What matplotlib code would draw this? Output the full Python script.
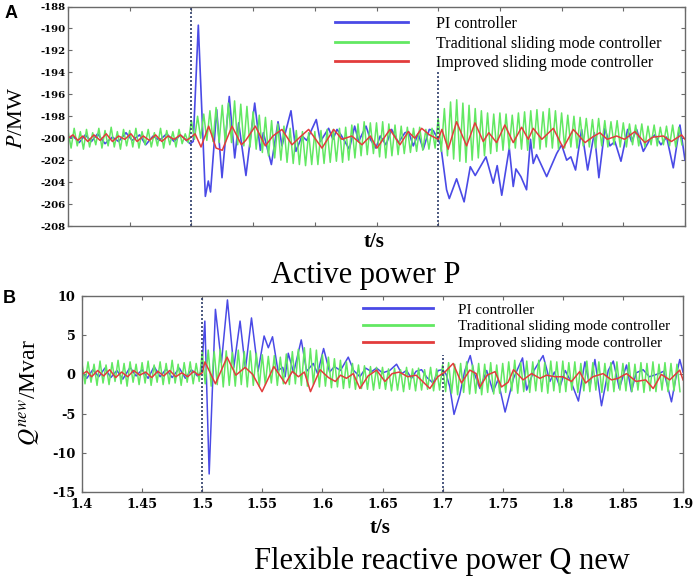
import numpy as np
import matplotlib
matplotlib.use('Agg')
import matplotlib.pyplot as plt

plt.rcParams['mathtext.fontset'] = 'stix'
plt.rcParams['axes.unicode_minus'] = False

# ---- data ----
labels = ['PI controller', 'Traditional sliding mode controller', 'Improved sliding mode controller']
x_ticks = [1.4, 1.45, 1.5, 1.55, 1.6, 1.65, 1.7, 1.75, 1.8, 1.85, 1.9]
x_ticklabels = ['1.4', '1.45', '1.5', '1.55', '1.6', '1.65', '1.7', '1.75', '1.8', '1.85', '1.9']
p_ticks = [-208, -206, -204, -202, -200, -198, -196, -194, -192, -190, -188]
q_ticks = [-15, -10, -5, 0, 5, 10]
events = [1.5, 1.7]

# Panel A, PI controller (time, P)
t_pi_a = [1.400, 1.404, 1.409, 1.414, 1.419, 1.424, 1.430, 1.436, 1.441, 1.447, 1.452, 1.458, 1.463, 1.469,
          1.474, 1.480, 1.486, 1.491, 1.496, 1.499, 1.5015, 1.5056, 1.5113, 1.5137, 1.5155, 1.5205, 1.5248,
          1.5307, 1.5351, 1.5383, 1.5442, 1.5513, 1.5559, 1.5583, 1.5648, 1.5702, 1.5734, 1.5807, 1.5847,
          1.5896, 1.5935, 1.6012, 1.6045, 1.6112, 1.6147, 1.6180, 1.6212, 1.6280, 1.6323, 1.6355, 1.6415,
          1.6450, 1.6495, 1.6530, 1.6577, 1.6623, 1.6677, 1.6731, 1.6760, 1.6798, 1.6838, 1.6879, 1.6928,
          1.6960, 1.6998, 1.7020, 1.7068, 1.7090, 1.7149, 1.7210, 1.7260, 1.7300, 1.7387, 1.7446, 1.7478,
          1.7515, 1.7576, 1.7608, 1.7630, 1.7670, 1.7716, 1.7748, 1.7770, 1.7797, 1.7879, 1.7960, 1.8000,
          1.8041, 1.8075, 1.8113, 1.8162, 1.8211, 1.8265, 1.8302, 1.8351, 1.8392, 1.8432, 1.8481, 1.8535,
          1.8567, 1.8608, 1.8662, 1.8716, 1.8756, 1.8805, 1.8851, 1.8905, 1.8959, 1.9000]
p_pi_a = [-200.1, -199.8, -200.4, -199.7, -200.3, -199.6, -200.5, -199.9, -200.3, -199.5, -200.2, -199.7,
          -200.6, -199.8, -200.2, -199.6, -200.3, -199.7, -200.2, -200.5, -200.3, -189.7, -205.3, -203.9,
          -204.9, -197.4, -203.6, -196.2, -201.8, -198.6, -203.4, -196.8, -201.1, -199.5, -202.4, -198.5,
          -200.7, -197.5, -201.2, -199.8, -200.2, -198.3, -200.3, -199.1, -200.1, -199.2, -199.7, -201.0,
          -198.9, -200.3, -198.9, -200.1, -200.9, -199.8, -200.6, -199.2, -200.4, -199.5, -199.4, -200.7,
          -199.6, -201.0, -199.2, -199.3, -200.1, -200.6, -204.7, -205.5, -203.7, -205.8, -202.6, -203.4,
          -201.7, -204.1, -202.5, -205.2, -200.9, -204.4, -202.8, -203.5, -204.7, -200.1, -202.3, -201.5,
          -203.5, -201.4, -200.6, -202.0, -201.7, -202.9, -199.2, -202.9, -199.5, -203.6, -199.1, -200.7,
          -200.3, -202.1, -199.2, -200.3, -199.2, -201.2, -200.1, -199.7, -200.6, -199.9, -202.7, -198.8,
          -202.0]

# Panel A, traditional SMC: successive peaks / troughs every 2.5 ms from 1.4 s
p_smc_a = [
    -199.3, -200.9, -199.1, -200.7, -199.4, -201.0, -199.2, -200.8, -199.5, -200.6,
    -199.1, -200.9, -199.3, -200.7, -199.0, -200.8, -199.4, -201.0, -199.2, -200.7,
    -199.3, -200.8, -199.1, -200.9, -199.4, -200.6, -199.2, -200.8, -199.5, -200.7,
    -199.1, -200.9, -199.3, -200.6, -199.4, -200.8, -199.2, -200.5, -199.6, -200.4,
    -198.4, -200.1, -198.0, -200.0, -197.8, -200.2, -197.5, -200.3, -197.2, -200.4,
    -197.0, -200.5, -196.8, -200.4, -196.6, -200.6, -196.9, -200.7, -197.1, -200.8,
    -197.6, -201.0, -197.9, -201.3, -198.1, -201.6, -198.4, -201.8, -198.7, -202.0,
    -198.9, -202.2, -199.1, -202.3, -199.3, -202.4, -199.4, -202.5, -199.5, -202.4,
    -199.4, -202.4, -199.3, -202.3, -199.2, -202.2, -199.2, -202.1, -199.1, -202.2,
    -199.0, -202.0, -198.8, -201.8, -198.7, -201.6, -198.5, -201.5, -198.6, -201.4,
    -198.6, -201.7, -198.5, -201.8, -198.7, -201.6, -198.8, -201.5, -198.9, -201.4,
    -199.0, -201.3, -199.1, -201.2, -199.0, -201.1, -199.2, -201.0, -199.1, -200.9,
    -198.2, -201.2, -197.3, -201.6, -196.7, -201.9, -196.5, -202.1, -196.8, -202.2,
    -197.0, -202.0, -197.3, -201.8, -197.5, -201.6, -197.7, -201.4, -197.8, -201.2,
    -197.7, -201.1, -197.8, -201.0, -197.9, -200.9, -197.7, -201.0, -197.6, -201.1,
    -197.5, -200.9, -197.4, -201.0, -197.6, -200.8, -197.3, -200.9, -197.5, -201.0,
    -197.7, -200.9, -197.9, -200.8, -198.0, -200.9, -198.1, -200.7, -198.2, -200.8,
    -198.3, -200.9, -198.2, -200.7, -198.4, -200.8, -198.5, -200.6, -198.4, -200.8,
    -198.6, -200.8, -198.7, -200.6, -198.8, -200.7, -198.7, -200.8, -198.9, -200.6,
    -198.8, -200.7, -199.0, -200.6, -198.9, -200.7, -198.8, -200.8, -199.0, -200.6]

# Panel A, improved SMC (time, P)
t_isc_a = [1.400, 1.404, 1.408, 1.412, 1.416, 1.421, 1.426, 1.431, 1.436, 1.441, 1.446, 1.451, 1.456, 1.461,
           1.466, 1.471, 1.476, 1.481, 1.486, 1.491, 1.496, 1.500, 1.5030, 1.5078, 1.5140, 1.5200, 1.5250,
           1.5329, 1.5405, 1.5440, 1.5518, 1.5599, 1.5660, 1.5734, 1.5815, 1.5880, 1.5950, 1.6058, 1.6153,
           1.6220, 1.6300, 1.6382, 1.6450, 1.6504, 1.6609, 1.6690, 1.6757, 1.6810, 1.6866, 1.6930, 1.7000,
           1.7030, 1.7081, 1.7149, 1.7230, 1.7298, 1.7365, 1.7410, 1.7473, 1.7540, 1.7608, 1.7676, 1.7730,
           1.7770, 1.7840, 1.7933, 1.8013, 1.8095, 1.8190, 1.8250, 1.8310, 1.8370, 1.8446, 1.8510, 1.8594,
           1.8675, 1.8740, 1.8824, 1.8890, 1.8972, 1.9000]
p_isc_a = [-200.0, -199.7, -200.2, -199.8, -200.3, -199.7, -200.2, -199.6, -200.3, -199.8, -200.1, -199.6,
           -200.3, -199.8, -200.2, -199.7, -200.3, -199.8, -200.1, -199.7, -200.2, -199.9, -199.6, -200.8,
           -198.9, -200.9, -201.1, -198.9, -200.6, -200.2, -198.9, -200.7, -199.8, -199.2, -200.6, -199.9,
           -199.2, -200.9, -199.2, -200.1, -199.8, -200.6, -199.8, -200.9, -199.2, -200.6, -199.4, -200.0,
           -199.1, -199.7, -200.1, -199.2, -201.0, -198.5, -200.7, -198.6, -200.3, -199.5, -200.4, -198.8,
           -200.4, -199.0, -200.1, -199.1, -200.1, -199.1, -200.9, -199.2, -200.4, -199.9, -199.5, -200.1,
           -199.8, -200.1, -199.4, -200.4, -199.9, -199.8, -200.3, -199.7, -200.1]

# Panel B, PI controller (time, Q)
t_pi_b = [1.400, 1.404, 1.409, 1.414, 1.419, 1.424, 1.429, 1.434, 1.440, 1.445, 1.450, 1.455, 1.460, 1.465,
          1.470, 1.475, 1.481, 1.486, 1.491, 1.496, 1.4995, 1.5022, 1.5058, 1.5110, 1.5160, 1.5210, 1.5263,
          1.5315, 1.5360, 1.5410, 1.5465, 1.5515, 1.5550, 1.5585, 1.5630, 1.5670, 1.5690, 1.5716, 1.5760,
          1.5824, 1.5869, 1.5924, 1.5960, 1.6010, 1.6060, 1.6100, 1.6150, 1.6215, 1.6260, 1.6312, 1.6360,
          1.6409, 1.6450, 1.6500, 1.6560, 1.6617, 1.6660, 1.6700, 1.6741, 1.6780, 1.6825, 1.6870, 1.6921,
          1.6963, 1.7000, 1.7030, 1.7060, 1.7095, 1.7143, 1.7185, 1.7230, 1.7260, 1.7310, 1.7367, 1.7420,
          1.7460, 1.7520, 1.7590, 1.7665, 1.7699, 1.7760, 1.7836, 1.7893, 1.7930, 1.7976, 1.8020, 1.8070,
          1.8130, 1.8184, 1.8225, 1.8267, 1.8322, 1.8378, 1.8420, 1.8470, 1.8530, 1.8571, 1.8610, 1.8668,
          1.8720, 1.8780, 1.8840, 1.8904, 1.8940, 1.8973, 1.9000]
q_pi_b = [0.3, -0.5, 0.6, -0.3, 0.8, -0.4, 0.5, -0.6, 0.9, -0.2, 0.6, -0.5, 1.0, -0.3, 0.7, -0.4, 0.8, -0.5,
          0.6, -0.2, 0.4, 6.8, -12.7, 8.3, 1.5, 9.5, 0.9, 6.8, 0.7, 7.2, 0.4, 4.9, 3.4, 4.8, 0.5, 0.9, -0.3,
          2.7, 0.2, 4.4, 0.4, 1.4, 0.1, 3.3, 0.3, 1.0, 0.5, 2.2, 0.5, -0.3, 0.8, 0.35, 0.8, 0.2, 0.5, 1.3,
          0.1, 0.5, -0.5, 0.4, 0.6, -0.4, -1.1, 0.5, 0.6, 0.0, -1.6, -5.1, -2.6, 0.5, 2.4, 0.3, -1.8, 0.5,
          -2.2, -0.7, -4.8, -0.5, 2.1, -2.0, 0.5, 2.4, -0.9, 0.3, -1.6, 0.5, -1.0, -3.4, 1.6, -1.6, 1.9,
          -4.0, 0.5, 1.7, -1.8, 1.2, -2.2, 0.2, 0.6, -0.3, 0.0, 0.4, -3.5, -0.5, 1.9, 0.3]

# Panel B, traditional SMC: successive peaks / troughs every 2.5 ms from 1.4 s
q_smc_b = [
    1.4, -1.2, 1.6, -1.0, 1.3, -1.4, 1.7, -1.1, 1.2, -1.3,
    1.5, -0.9, 1.8, -1.2, 1.4, -1.5, 1.6, -1.0, 1.3, -1.3,
    1.5, -1.1, 1.7, -1.4, 1.2, -1.0, 1.6, -1.3, 1.4, -1.2,
    1.8, -1.1, 1.3, -1.4, 1.5, -1.0, 1.6, -1.2, 1.4, -0.9,
    2.8, -1.2, 3.1, -1.5, 2.9, -1.3, 3.2, -1.6, 3.0, -1.4,
    2.8, -1.5, 3.1, -1.3, 2.9, -1.6, 3.0, -1.4, 2.7, -1.5,
    2.5, -1.3, 2.3, -1.1, 2.4, -1.4, 2.2, -1.2, 2.6, -1.3,
    2.9, -1.2, 3.2, -1.4, 3.4, -1.5, 3.3, -1.3, 3.1, -1.6,
    2.5, -1.5, 2.2, -1.7, 2.0, -1.6, 1.8, -1.8, 1.6, -1.7,
    1.4, -1.9, 1.2, -1.8, 1.1, -1.9, 1.0, -2.0, 0.9, -1.8,
    0.9, -1.9, 0.7, -2.1, 0.8, -2.0, 0.6, -2.2, 0.9, -1.9,
    0.7, -2.1, 0.8, -2.0, 0.6, -1.9, 0.9, -2.1, 0.7, -2.0,
    1.2, -2.2, 1.5, -2.4, 1.3, -2.6, 1.4, -2.3, 1.6, -2.5,
    1.2, -2.4, 1.4, -2.6, 1.3, -2.3, 1.5, -2.5, 1.2, -2.4,
    1.4, -2.3, 1.6, -2.1, 1.8, -2.4, 1.5, -2.2, 1.7, -2.3,
    1.6, -2.1, 1.8, -2.2, 1.5, -2.4, 1.7, -2.1, 1.6, -2.3,
    1.7, -2.2, 1.5, -2.0, 1.6, -2.3, 1.4, -2.1, 1.7, -2.2,
    1.5, -2.0, 1.6, -2.3, 1.4, -2.1, 1.5, -2.2, 1.6, -2.0,
    1.4, -2.1, 1.5, -2.2, 1.3, -2.0, 1.5, -2.3, 1.4, -2.1,
    1.6, -2.2, 1.3, -2.0, 1.5, -2.2, 1.4, -2.1, 1.3, -2.2]

# Panel B, improved SMC (time, Q)
t_isc_b = [1.400, 1.404, 1.408, 1.413, 1.418, 1.423, 1.428, 1.433, 1.438, 1.443, 1.448, 1.453, 1.458, 1.463,
           1.468, 1.473, 1.478, 1.483, 1.488, 1.493, 1.497, 1.5000, 1.5023, 1.5110, 1.5207, 1.5280, 1.5357,
           1.5420, 1.5498, 1.5596, 1.5693, 1.5750, 1.5800, 1.5850, 1.5901, 1.5980, 1.6050, 1.6108, 1.6150,
           1.6200, 1.6257, 1.6312, 1.6380, 1.6451, 1.6520, 1.6580, 1.6640, 1.6710, 1.6780, 1.6894, 1.6960,
           1.7019, 1.7088, 1.7157, 1.7226, 1.7280, 1.7311, 1.7370, 1.7436, 1.7490, 1.7545, 1.7590, 1.7670,
           1.7740, 1.7810, 1.7865, 1.7935, 1.8000, 1.8073, 1.8140, 1.8190, 1.8250, 1.8335, 1.8405, 1.8460,
           1.8530, 1.8610, 1.8690, 1.8752, 1.8820, 1.8890, 1.8973, 1.9000]
q_isc_b = [0.0, 0.4, -0.3, 0.5, -0.2, 0.6, -0.4, 0.3, -0.3, 0.5, -0.1, 0.3, -0.4, 0.4, -0.2, 0.5, -0.3, 0.2,
           -0.3, 0.4, -0.1, 0.2, 1.6, -1.2, 2.2, -0.1, 0.9, 0.0, -2.2, 1.0, -1.2, 0.4, -0.3, 0.3, -2.2, 0.6,
           -0.4, -0.9, -0.1, -0.5, 0.1, -1.8, -0.2, 0.55, -0.9, 0.1, 0.3, -0.3, -0.1, -1.8, -0.3, 0.3, 1.4,
           -1.1, 0.55, 0.1, -1.6, -0.1, 0.35, -1.6, -1.0, 0.6, -0.7, 0.1, -0.5, -0.1, -0.3, -0.3, -0.9, 0.35,
           -1.1, -0.3, 0.1, -0.7, -0.5, 0.1, -0.9, -0.7, -1.8, 0.0, -0.7, 0.55, -0.7]

c_pi = '#4a4ae6'
c_smc = '#62e862'
c_isc = '#e23c3c'
c_evt = '#2e3d6b'
c_frame = '#6a6a6a'

t_smc = 1.4 + 0.0025 * np.arange(len(p_smc_a))

W, H = 699, 577
fig = plt.figure(figsize=(W / 100, H / 100), dpi=100)
ax1 = fig.add_axes([68 / W, 1 - 226 / H, 617 / W, 219.5 / H])
ax2 = fig.add_axes([82 / W, 1 - 492 / H, 601 / W, 196 / H])

serif = 'Liberation Serif'

ax1.plot(t_pi_a, p_pi_a, color=c_pi, lw=1.2, label=labels[0], solid_joinstyle='round')
ax1.plot(t_smc, p_smc_a, color=c_smc, lw=1.1, label=labels[1])
ax1.plot(t_isc_a, p_isc_a, color=c_isc, lw=1.1, label=labels[2], solid_joinstyle='round')

ax2.plot(t_pi_b, q_pi_b, color=c_pi, lw=1.1, label=labels[0], solid_joinstyle='round')
ax2.plot(t_smc, q_smc_b, color=c_smc, lw=1.1, label=labels[1])
ax2.plot(t_isc_b, q_isc_b, color=c_isc, lw=1.1, label=labels[2], solid_joinstyle='round')

for ax in (ax1, ax2):
    ax.axvline(events[0], color=c_evt, lw=1.2, ls=(0, (1.2, 1.2)))
    ax.axvline(events[1], ymax=0.7, color=c_evt, lw=1.2, ls=(0, (1.2, 1.2)))
    ax.set_xlim(1.4, 1.9)
    ax.set_xticks(x_ticks)
    ax.tick_params(direction='in', top=True, right=True, length=3, width=0.8, color=c_frame)
    for s in ax.spines.values():
        s.set_color(c_frame)
        s.set_linewidth(1.0)

ax1.set_ylim(-208, -188)
ax1.set_yticks(p_ticks)
ax1.set_yticklabels([str(v) for v in p_ticks], fontfamily='DejaVu Serif', fontweight='bold', fontsize=7.3)
ax1.set_xticklabels([])
ax1.tick_params(axis='y', pad=2)

ax2.set_ylim(-15, 10)
ax2.set_yticks(q_ticks)
ax2.set_yticklabels([str(v) for v in q_ticks], fontfamily='DejaVu Serif', fontweight='bold', fontsize=9.3)
ax2.set_xticklabels(x_ticklabels, fontfamily='DejaVu Serif', fontweight='bold', fontsize=9.3)
ax2.tick_params(axis='y', pad=4.5)
ax2.tick_params(axis='x', pad=4)

leg1 = ax1.legend(loc='upper left', bbox_to_anchor=(335 / W, 1 - 16 / H), bbox_transform=fig.transFigure,
                  frameon=False, borderpad=0, borderaxespad=0, handlelength=4.5, handletextpad=1.8,
                  labelspacing=0.22, prop={'family': serif, 'size': 11.6})
leg2 = ax2.legend(loc='upper left', bbox_to_anchor=(363 / W, 1 - 303 / H), bbox_transform=fig.transFigure,
                  frameon=False, borderpad=0, borderaxespad=0, handlelength=4.6, handletextpad=1.7,
                  labelspacing=0.2, prop={'family': serif, 'size': 10.9})
for leg in (leg1, leg2):
    for ln in leg.get_lines():
        ln.set_linewidth(2.0)

fig.text(17 / W, 1 - 118 / H, r'$P$/MW', rotation=90, ha='center', va='center',
         fontsize=16, fontfamily=serif)
fig.text(30 / W, 1 - 393 / H, r'$Q^{new}$/Mvar', rotation=90, ha='center', va='center',
         fontsize=17, fontfamily=serif)

fig.text(374 / W, 1 - 242 / H, 't/s', ha='center', va='center', fontsize=15,
         fontweight='bold', fontfamily=serif)
fig.text(380 / W, 1 - 528 / H, 't/s', ha='center', va='center', fontsize=15,
         fontweight='bold', fontfamily=serif)

fig.text(366 / W, 1 - 283 / H, 'Active power P', ha='center', va='baseline', fontsize=22,
         fontfamily=serif)
fig.text(442 / W, 1 - 569 / H, 'Flexible reactive power Q new', ha='center', va='baseline',
         fontsize=22, fontfamily=serif)

fig.text(5 / W, 1 - 18 / H, 'A', ha='left', va='baseline', fontsize=13, fontweight='bold',
         fontfamily='Liberation Sans')
fig.text(3 / W, 1 - 303 / H, 'B', ha='left', va='baseline', fontsize=13, fontweight='bold',
         fontfamily='Liberation Sans')

fig.savefig('out.png', dpi=100)
